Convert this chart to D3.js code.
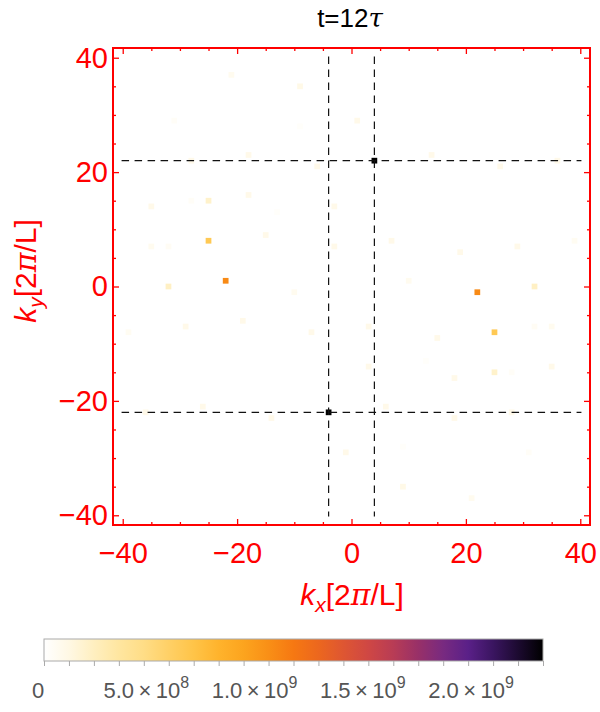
<!DOCTYPE html>
<html>
<head>
<meta charset="utf-8">
<script src="https://cdn.jsdelivr.net/npm/d3@7"></script>
<style>
  body { margin: 0; background: #fff; }
  svg { display: block; font-family: "Liberation Sans", Arial, sans-serif; }
</style>
</head>
<body>
<svg id="chart" width="600" height="712"></svg>
<script>
// ---------- data ----------
const title = "t=12";
// cell coordinates (kx, ky) in units of 2π/L and intensity values
const cellKx = [4, -4, 22, -22, 25, -25, 32, -32, 25, -25,
  -21, 21, -9, 9, -31, 31, -9, 9, 1, -1, -18, 18, -28, 28, -6, 6,
  -18, 18, -35, 35, -28, 28, -13, 13, -3, 3, -15, 15, -35, 35, -32, 32,
  -3, 3, 14, -14, 26, -26, 36, -36, 7, -7, 19, -19, 29, -29, 39, -39, 10, -10];
const cellKy = [22, -22, -1, 1, -8, 8, 0, 0, -15, 15,
  37, -37, 35, -35, 29, -29, 28, -28, 29, -29, 23, -23, 22, -22, 21, -21,
  16, -16, 14, -14, 15, -15, 13, -13, 14, -14, 9, -9, 7, -7, 7, -7,
  7, -7, 23, -23, 21, -21, 22, -22, 8, -8, 6, -6, 7, -7, 8, -8, 1, -1];
const cellValue = [2.0e9, 2.0e9, 9.2e8, 9.2e8, 5.6e8, 5.6e8, 1.9e8, 1.9e8, 1.7e8, 1.7e8,
  0.6e8, 0.6e8, 0.9e8, 0.9e8, 0.3e8, 0.3e8, 0.2e8, 0.2e8, 0.8e8, 0.8e8, 0.8e8, 0.8e8, 0.8e8, 0.8e8, 0.8e8, 0.8e8,
  0.8e8, 0.8e8, 0.8e8, 0.8e8, 0.3e8, 0.3e8, 0.2e8, 0.2e8, 0.8e8, 0.8e8, 0.8e8, 0.8e8, 0.6e8, 0.6e8, 0.4e8, 0.4e8,
  0.8e8, 0.8e8, 0.8e8, 0.8e8, 0.8e8, 0.8e8, 0.8e8, 0.8e8, 0.8e8, 0.8e8, 0.8e8, 0.8e8, 0.8e8, 0.8e8, 0.5e8, 0.5e8, 0.6e8, 0.6e8];
const dashedKx = [-4, 4];
const dashedKy = [22, -22];
const axisMajorTicks = [-40, -20, 0, 20, 40];
const colorbarTickLabels = ["0", "5.0", "1.0", "1.5", "2.0"];
const colorbarTickExponents = [null, "8", "9", "9", "9"];
const colorbarTickValues = [0, 5e8, 1e9, 1.5e9, 2e9];
const colorStops = ["#ffffff", "#fff8e4", "#ffefc0", "#ffe6a0", "#ffdd86", "#ffd066", "#ffc448",
  "#ffb32c", "#fca41e", "#f98f16", "#f67812", "#ec671e", "#de5632", "#cf4744", "#b83c55",
  "#983068", "#782a80", "#5a2088", "#3a1560", "#1c0a30", "#000000"];

// ---------- scales ----------
const svg = d3.select("#chart");
const x = d3.scaleLinear().domain([-41.7, 41.7]).range([113, 590]);
const y = d3.scaleLinear().domain([-41.7, 41.7]).range([525, 48]);
const colorScale = d3.scaleLinear()
  .domain(colorStops.map((_, i) => i / (colorStops.length - 1) * 2e9))
  .range(colorStops).clamp(true);

const red = "#ff0000";

// ---------- cells ----------
const cells = cellKx.map((kx, i) => ({kx, ky: cellKy[i], v: cellValue[i]}))
  .sort((a, b) => a.v - b.v);
const cw = x(0.5) - x(-0.5), ch = y(-0.5) - y(0.5);
svg.append("g").selectAll("rect").data(cells).join("rect")
  .attr("x", d => x(d.kx - 0.5))
  .attr("y", d => y(d.ky + 0.5))
  .attr("width", cw).attr("height", ch)
  .attr("fill", d => colorScale(d.v));

// ---------- dashed lines ----------
const dash = svg.append("g").attr("stroke", "#111").attr("stroke-width", 1.2)
  .attr("stroke-dasharray", "7.5,5.5").attr("fill", "none");
dashedKx.forEach(k => dash.append("line")
  .attr("x1", x(k)).attr("x2", x(k)).attr("y1", y(40.2)).attr("y2", y(-40.2)));
dashedKy.forEach(k => dash.append("line")
  .attr("y1", y(k)).attr("y2", y(k)).attr("x1", x(-40.2)).attr("x2", x(40.2)));

// ---------- axes ----------
const minorTicks = d3.range(-40, 41, 5).filter(v => !axisMajorTicks.includes(v));
function styleAxis(g) {
  g.select(".domain").remove();
  g.selectAll("line").attr("stroke", red).attr("stroke-width", 1.3);
  g.selectAll("text").attr("fill", red).attr("font-size", 29)
    .attr("font-family", "'Liberation Sans', Arial, sans-serif");
}
const fmt = d3.format("d");
// bottom
svg.append("g").attr("transform", "translate(0,525)")
  .call(d3.axisBottom(x).tickValues(axisMajorTicks).tickSize(-6).tickPadding(17).tickFormat(fmt)).call(styleAxis);
svg.append("g").attr("transform", "translate(0,525)")
  .call(d3.axisBottom(x).tickValues(minorTicks).tickSize(-3).tickFormat("")).call(styleAxis);
// top
svg.append("g").attr("transform", "translate(0,48)")
  .call(d3.axisTop(x).tickValues(axisMajorTicks).tickSize(-6).tickFormat("")).call(styleAxis);
svg.append("g").attr("transform", "translate(0,48)")
  .call(d3.axisTop(x).tickValues(minorTicks).tickSize(-3).tickFormat("")).call(styleAxis);
// left
svg.append("g").attr("transform", "translate(113,0)")
  .call(d3.axisLeft(y).tickValues(axisMajorTicks).tickSize(-6).tickPadding(5).tickFormat(fmt)).call(styleAxis);
svg.append("g").attr("transform", "translate(113,0)")
  .call(d3.axisLeft(y).tickValues(minorTicks).tickSize(-3).tickFormat("")).call(styleAxis);
// right
svg.append("g").attr("transform", "translate(590,0)")
  .call(d3.axisRight(y).tickValues(axisMajorTicks).tickSize(-6).tickFormat("")).call(styleAxis);
svg.append("g").attr("transform", "translate(590,0)")
  .call(d3.axisRight(y).tickValues(minorTicks).tickSize(-3).tickFormat("")).call(styleAxis);

// frame
svg.append("rect").attr("x", 113).attr("y", 48).attr("width", 477).attr("height", 477)
  .attr("fill", "none").attr("stroke", red).attr("stroke-width", 2);

// ---------- labels ----------
function axisLabel(sel, sub) {
  sel.append("tspan").attr("font-style", "italic").text("k");
  sel.append("tspan").attr("font-style", "italic").attr("font-size", 21).attr("dy", 7).text(sub);
  sel.append("tspan").attr("dy", -7).text("[2");
  sel.append("tspan").attr("font-family", "'DejaVu Serif', serif").attr("font-style", "italic").text("π");
  sel.append("tspan").text("/L]");
}
const xl = svg.append("text").attr("x", 352).attr("y", 605).attr("text-anchor", "middle")
  .attr("fill", red).attr("font-size", 30);
axisLabel(xl, "x");

const yl = svg.append("text").attr("transform", "translate(36,271) rotate(-90)")
  .attr("text-anchor", "middle").attr("fill", red).attr("font-size", 30);
axisLabel(yl, "y");

const tl = svg.append("text").attr("x", 350).attr("y", 27).attr("text-anchor", "middle")
  .attr("fill", "#000").attr("font-size", 26);
tl.append("tspan").text(title);
tl.append("tspan").attr("font-family", "'DejaVu Serif', serif").attr("font-style", "italic").text("τ");

// ---------- colorbar ----------
const cb = d3.scaleLinear().domain([0, 2e9]).range([44, 543]);
const defs = svg.append("defs");
const grad = defs.append("linearGradient").attr("id", "cbgrad");
colorStops.forEach((c, i) => grad.append("stop")
  .attr("offset", (i / (colorStops.length - 1) * 100) + "%").attr("stop-color", c));
svg.append("rect").attr("x", cb(0)).attr("y", 639).attr("width", cb(2e9) - cb(0)).attr("height", 22)
  .attr("fill", "url(#cbgrad)").attr("stroke", "#aaa").attr("stroke-width", 1);
svg.append("g").attr("transform", "translate(0,661)")
  .call(d3.axisBottom(cb).tickValues(d3.range(0, 2.0001e9, 1e8)).tickSize(5).tickFormat(""))
  .call(g => { g.select(".domain").remove(); g.selectAll("line").attr("stroke", "#aaa"); });
const cbLabelPos = d3.scaleLinear().domain([0, 2e9]).range([38, 471]);
colorbarTickValues.forEach((v, i) => {
  const t = svg.append("text").attr("x", cbLabelPos(v)).attr("y", 698)
    .attr("text-anchor", "middle").attr("fill", "#555").attr("font-size", 22);
  if (colorbarTickExponents[i] === null) { t.text(colorbarTickLabels[i]); return; }
  t.append("tspan").text(colorbarTickLabels[i] + "\u2009\u00d7\u200910");
  t.append("tspan").attr("font-size", 16).attr("dy", -10).text(colorbarTickExponents[i]);
});
</script>
</body>
</html>
